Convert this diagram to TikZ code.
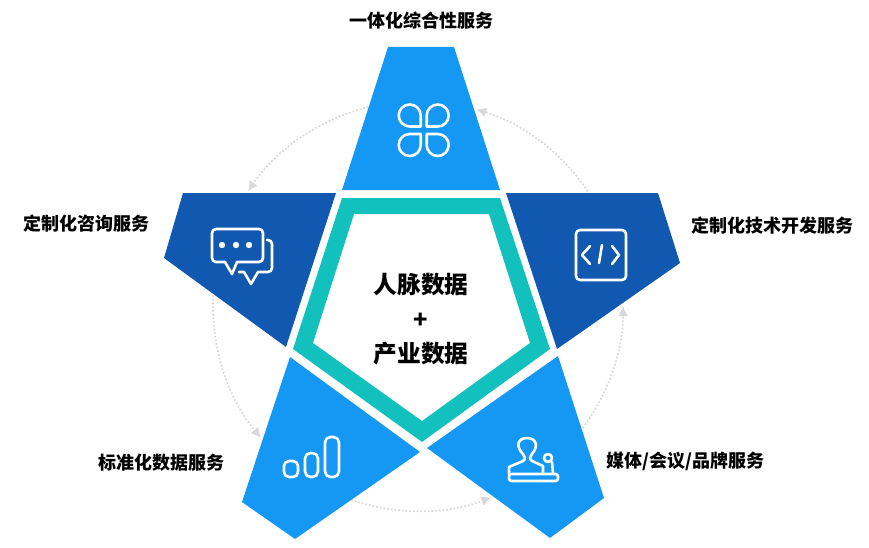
\documentclass[tikz,border=0pt]{standalone}
\usepackage{fontspec}
\newfontfamily\cjk{Noto Sans CJK SC}
\usetikzlibrary{arrows.meta}
\definecolor{lightblue}{HTML}{1598F4}
\definecolor{darkblue}{HTML}{1158B0}
\definecolor{tealring}{HTML}{12C0BE}
\definecolor{ringgrey}{HTML}{D8D8D8}
\tikzset{
  ringarc/.style={draw=ringgrey, line width=1.7pt, dotted, -{Latex[length=10pt,width=10pt,fill=ringgrey,color=ringgrey,sep=0pt]}},
  icon/.style={draw=white, line width=2.6pt, line join=round, line cap=round},
  lbl/.style={font=\cjk\bfseries\fontsize{18}{20}\selectfont, text=black, inner sep=0pt},
  midlbl/.style={font=\cjk\bfseries\fontsize{23.7}{26}\selectfont, text=black, inner sep=0pt}
}
\begin{document}
\begin{tikzpicture}[x=1pt,y=-1pt]
\useasboundingbox (0,0) rectangle (869,548);
\coordinate (c) at (418,306);
% ring
\draw[ringarc] (c) ++(-33:205) arc[start angle=-33,end angle=-73.5,radius=205];
\draw[ringarc] (c) ++(-104:205) arc[start angle=-104,end angle=-146,radius=205];
\draw[ringarc] (c) ++(183:205) arc[start angle=183,end angle=140,radius=205];
\draw[ringarc] (c) ++(109:205) arc[start angle=109,end angle=69,radius=205];
\draw[ringarc] (c) ++(36.5:205) arc[start angle=36.5,end angle=0,radius=205];
% blocks
\fill[lightblue] (388,47) -- (454,47) -- (500,190) -- (342,190) -- cycle;
\fill[darkblue] (183,193) -- (336,193) -- (286,347) -- (164,258) -- cycle;
\fill[darkblue] (506,193) -- (658,193) -- (680,263) -- (557,349) -- cycle;
\fill[lightblue] (290,357) -- (420,452) -- (295,539) -- (242,502) -- cycle;
\fill[lightblue] (558,356) -- (604,498) -- (550,538) -- (427,448) -- cycle;
% pentagon
\fill[tealring, even odd rule] (342,198) -- (500,198) -- (550,349) -- (422,442) -- (293,349) -- cycle
  (354,214) -- (489,214) -- (530,343) -- (422,421) -- (313,343) -- cycle;
% clover
\foreach \sx/\sy/\px/\py in {1/1/420.7/126.5, -1/1/426.7/126.5, 1/-1/420.7/134, -1/-1/426.7/134}
  \draw[icon, shift={(\px,\py)}, xscale=\sx, yscale=\sy] (0,0) -- (-11,0) arc[start angle=90,end angle=360,radius=11] -- cycle;
% chat
\draw[icon, rounded corners=4pt] (225,262) -- (212,262) -- (212,229) -- (263,229) -- (263,262) -- (237,262);
\draw[icon] (225,262) -- (232,274) -- (237,262);
\fill[white] (222,245) circle (3.2) (236,245) circle (3.2) (249,245) circle (3.2);
\draw[icon, rounded corners=4pt] (267,240) -- (272,240) -- (272,272) -- (258,272);
\draw[icon] (258,272) -- (251,284) -- (244,272) -- (239,272);
% code
\draw[icon, rounded corners=4pt] (576,230) rectangle (626,280);
\draw[icon] (590,246) -- (582,255) -- (590,264);
\draw[icon] (612,246) -- (619,255) -- (612,264);
\draw[icon] (602,245) -- (599,263);
% bars
\draw[icon, rounded corners=5pt] (284,461) rectangle (298,477);
\draw[icon, rounded corners=5.5pt] (305,453) rectangle (318,477);
\draw[icon, rounded corners=5.5pt] (325,437) rectangle (339,477);
% person
\draw[icon, rounded corners=2.5pt] (509,474) rectangle (558,481);
\draw[icon] (509,474) -- (509,467) -- (523,461) .. controls (526,459) and (525,456) .. (523,454) .. controls (515,446) and (518,438) .. (527,438) .. controls (536,438) and (539,446) .. (532,454) .. controls (530,456) and (529,459) .. (532,461) -- (543,466) -- (543,473);
\draw[icon] (548,458) circle (4);
\draw[icon] (552,462) -- (553,473);
% labels
\node[lbl] (top) at (421,21) {一体化综合性服务};
\node[lbl] (left) at (86.5,224) {定制化咨询服务};
\node[lbl] (right) at (772,226) {定制化技术开发服务};
\node[lbl] (lowleft) at (161,463) {标准化数据服务};
\node[lbl] (lowright) at (685.5,461) {媒体/会议/品牌服务};
\node[midlbl] (contacts) at (421,285) {人脉数据};
\node[midlbl] (plus) at (421,320.5) {+};
\node[midlbl] (industry) at (421,354) {产业数据};
\end{tikzpicture}
\end{document}
